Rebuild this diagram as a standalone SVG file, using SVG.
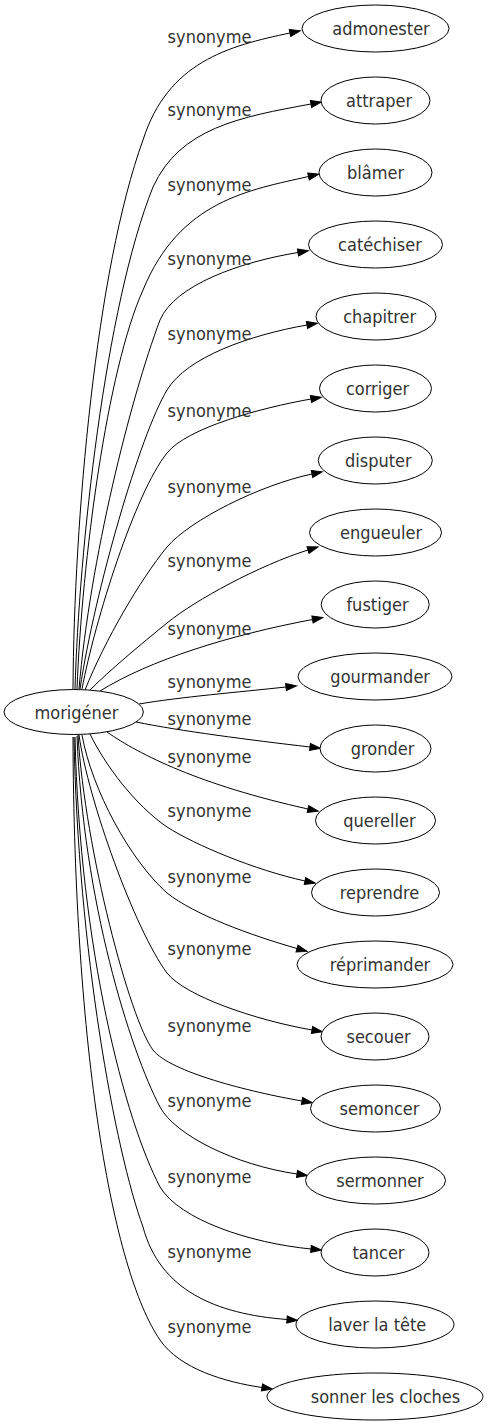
<svg xmlns="http://www.w3.org/2000/svg" width="489" height="1427" viewBox="0 0 489 1427">
<style>
  .edge { fill: none; stroke: #000; stroke-width: 1; marker-end: url(#ah); }
  .node ellipse { fill: #fff; stroke: #000; stroke-width: 1; }
  text { font-family: "DejaVu Sans Condensed", "DejaVu Sans", sans-serif; font-stretch: condensed; font-size: 18px; fill: #333; text-anchor: middle; }
</style>
<defs>
  <marker id="ah" markerUnits="userSpaceOnUse" markerWidth="12" markerHeight="8" refX="0" refY="3.5" orient="auto" overflow="visible">
    <path d="M0,0 L10.5,3.5 L0,7 z" fill="#000" stroke="#000" stroke-width="1"/>
  </marker>
</defs>
<rect width="489" height="1427" fill="#fff"/>
<g id="connectors">
  <path class="edge" d="M73,689 C74,520 96,270 143,140 C168,62 228,46 290,33"/>
  <path class="edge" d="M75,689 C79,550 105,307 153,187 C180,128 240,117 311,104"/>
  <path class="edge" d="M77,689 C82,560 107,370 143,290 C180,200 250,190 308.5,176.5"/>
  <path class="edge" d="M79,689 C90,560 130,400 160,320 C175,285 240,262 298,252.5"/>
  <path class="edge" d="M80,689 C95,590 140,435 167,390 C187,357 250,335 307,325"/>
  <path class="edge" d="M82,689 C95,620 135,493 167,453 C187,428 260,408 311,399"/>
  <path class="edge" d="M85,690 C105,640 140,580 167,547 C190,520 260,485 312,474"/>
  <path class="edge" d="M90,690 C110,670 140,645 167,623 C195,600 260,565 308,550"/>
  <path class="edge" d="M100,691 C150,660 230,635 312.5,619.5"/>
  <path class="edge" d="M139,704 C180,697 240,692 286,687"/>
  <path class="edge" d="M136,722 C180,731 250,740 310,747"/>
  <path class="edge" d="M107,732 C140,755 200,785 308,809"/>
  <path class="edge" d="M90,734 C105,765 135,805 167,827 C195,845 255,870 305,881"/>
  <path class="edge" d="M82,735 C92,790 130,860 167,893 C195,915 250,935 297,948.5"/>
  <path class="edge" d="M79,735 C88,800 135,930 167,973 C185,996 255,1020 312,1030"/>
  <path class="edge" d="M78,735 C85,850 130,1020 153,1050 C170,1072 250,1092 302,1101"/>
  <path class="edge" d="M77,736 C83,900 130,1050 160,1107 C175,1135 235,1165 297,1174"/>
  <path class="edge" d="M75,737 C80,950 125,1120 160,1187 C180,1220 250,1243 311,1249"/>
  <path class="edge" d="M74,737 C78,950 115,1150 143,1227 C160,1290 215,1314 287,1319.5"/>
  <path class="edge" d="M73,737 C74,1050 112,1270 160,1340 C180,1369 225,1382 262,1387.5"/>
  <text x="209.5" y="43">synonyme</text>
  <text x="209.5" y="116">synonyme</text>
  <text x="209.5" y="191">synonyme</text>
  <text x="209.5" y="265">synonyme</text>
  <text x="209.5" y="340">synonyme</text>
  <text x="209.5" y="417">synonyme</text>
  <text x="209.5" y="493">synonyme</text>
  <text x="209.5" y="567">synonyme</text>
  <text x="209.5" y="635">synonyme</text>
  <text x="209.5" y="688">synonyme</text>
  <text x="209.5" y="725">synonyme</text>
  <text x="209.5" y="763">synonyme</text>
  <text x="209.5" y="817">synonyme</text>
  <text x="209.5" y="883">synonyme</text>
  <text x="209.5" y="955">synonyme</text>
  <text x="209.5" y="1032">synonyme</text>
  <text x="209.5" y="1107">synonyme</text>
  <text x="209.5" y="1183">synonyme</text>
  <text x="209.5" y="1258">synonyme</text>
  <text x="209.5" y="1333">synonyme</text>
</g>
<g id="n-morigener" class="node"><ellipse cx="73.7" cy="712" rx="69.7" ry="22.5"/><text x="76.5" y="719">morigéner</text></g>
<g id="n-admonester" class="node"><ellipse cx="375.5" cy="28.5" rx="73.5" ry="23.5"/><text x="381" y="35">admonester</text></g>
<g id="n-attraper" class="node"><ellipse cx="375.5" cy="100.5" rx="54.5" ry="23.5"/><text x="379" y="107">attraper</text></g>
<g id="n-blamer" class="node"><ellipse cx="375.5" cy="172.5" rx="56.5" ry="23.5"/><text x="375.5" y="179">blâmer</text></g>
<g id="n-catechiser" class="node"><ellipse cx="375.5" cy="244.5" rx="67" ry="23.5"/><text x="380" y="251">catéchiser</text></g>
<g id="n-chapitrer" class="node"><ellipse cx="376" cy="316.5" rx="60" ry="23.5"/><text x="379.7" y="323">chapitrer</text></g>
<g id="n-corriger" class="node"><ellipse cx="375.5" cy="388.5" rx="56" ry="23.5"/><text x="377.5" y="395">corriger</text></g>
<g id="n-disputer" class="node"><ellipse cx="375.3" cy="460.5" rx="57" ry="23.5"/><text x="378.3" y="467">disputer</text></g>
<g id="n-engueuler" class="node"><ellipse cx="375.5" cy="532.5" rx="66" ry="23.5"/><text x="381" y="539">engueuler</text></g>
<g id="n-fustiger" class="node"><ellipse cx="375.2" cy="604.5" rx="54" ry="23.5"/><text x="377.5" y="611">fustiger</text></g>
<g id="n-gourmander" class="node"><ellipse cx="375" cy="676.5" rx="77" ry="23.5"/><text x="380.2" y="683">gourmander</text></g>
<g id="n-gronder" class="node"><ellipse cx="375.5" cy="748.5" rx="55.5" ry="23.5"/><text x="382.5" y="755">gronder</text></g>
<g id="n-quereller" class="node"><ellipse cx="375.5" cy="820.5" rx="60" ry="23.5"/><text x="379.5" y="827">quereller</text></g>
<g id="n-reprendre" class="node"><ellipse cx="375.5" cy="892.5" rx="64" ry="23.5"/><text x="379.5" y="899">reprendre</text></g>
<g id="n-reprimander" class="node"><ellipse cx="375" cy="964.5" rx="78" ry="23.5"/><text x="380" y="971">réprimander</text></g>
<g id="n-secouer" class="node"><ellipse cx="375" cy="1036.5" rx="54" ry="23.5"/><text x="378.5" y="1043">secouer</text></g>
<g id="n-semoncer" class="node"><ellipse cx="375.5" cy="1108.5" rx="65" ry="23.5"/><text x="379.5" y="1115">semoncer</text></g>
<g id="n-sermonner" class="node"><ellipse cx="375.5" cy="1180.5" rx="70" ry="23.5"/><text x="380" y="1187">sermonner</text></g>
<g id="n-tancer" class="node"><ellipse cx="375" cy="1252.5" rx="54" ry="23.5"/><text x="378.5" y="1259">tancer</text></g>
<g id="n-laver" class="node"><ellipse cx="375" cy="1324.5" rx="79" ry="23.5"/><text x="377.3" y="1331">laver la tête</text></g>
<g id="n-sonner" class="node"><ellipse cx="375" cy="1396.5" rx="108" ry="23.5"/><text x="385.5" y="1403">sonner les cloches</text></g>
</svg>
